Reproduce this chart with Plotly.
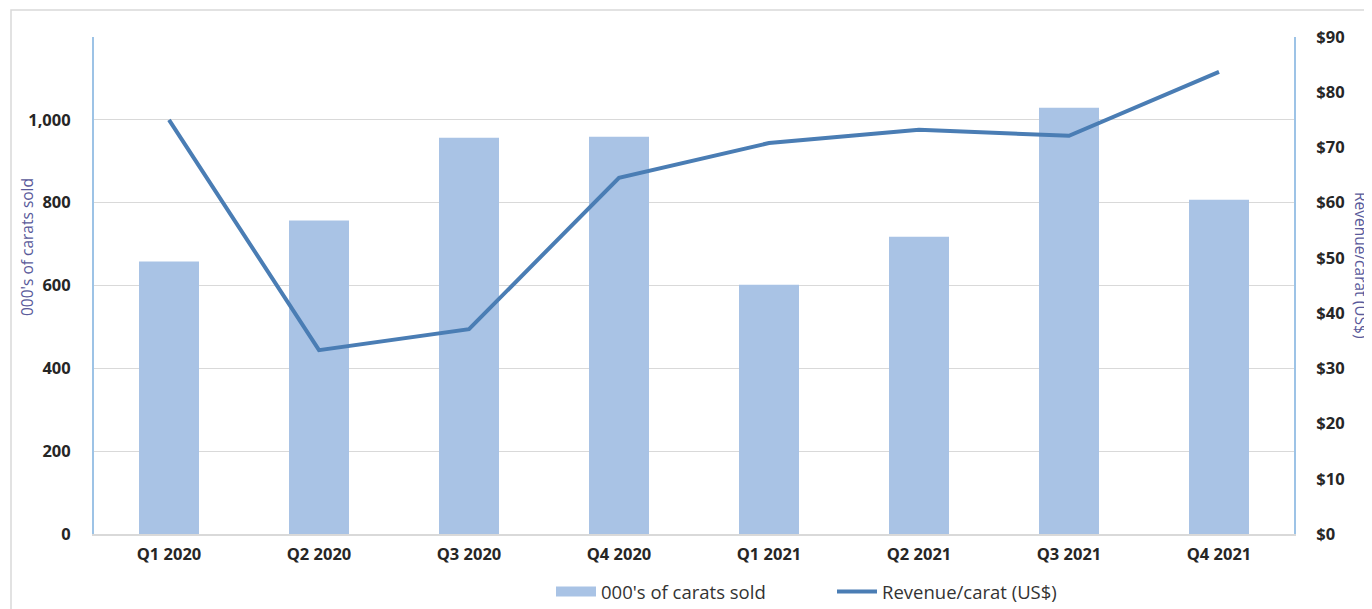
import plotly.graph_objects as go

quarters = ["Q1 2020", "Q2 2020", "Q3 2020", "Q4 2020", "Q1 2021", "Q2 2021", "Q3 2021", "Q4 2021"]
carats_sold = [658, 757, 957, 959, 602, 718, 1029, 807]
revenue_per_carat = [75.0, 33.3, 37.1, 64.5, 70.8, 73.2, 72.1, 83.7]
left_ticks = [0, 200, 400, 600, 800, 1000]
left_tick_text = ["0", "200", "400", "600", "800", "1,000"]
right_ticks = [0, 10, 20, 30, 40, 50, 60, 70, 80, 90]
right_tick_text = ["$" + str(v) for v in right_ticks]

OFF = 8  # default page body margin
W, H = 1372 - OFF, 609 - OFF
# plot area in window pixels: left 94, right 1294, top 37, bottom 534
L, T = 94 - OFF, 37 - OFF
R = W - (1294 - OFF)
B = H - (534 - OFF)
pw, ph = W - L - R, H - T - B

def px(x):  # window px -> paper
    return (x - OFF - L) / pw

def py(y):
    return (534 - y) / ph

FONT = "Open Sans, Liberation Sans, sans-serif"
BAR_COLOR = "#a9c3e5"
LINE_COLOR = "#4a7db4"

fig = go.Figure()
fig.add_trace(go.Bar(
    x=quarters, y=carats_sold, name="000's of carats sold", showlegend=False,
    marker=dict(color=BAR_COLOR, line=dict(width=0)), width=0.4, yaxis="y"))
# legend proxy for the bar series (wide swatch as in the original)
fig.add_trace(go.Scatter(
    x=[None], y=[None], name="000's of carats sold", mode="lines",
    line=dict(color=BAR_COLOR, width=10), yaxis="y", hoverinfo="skip"))
fig.add_trace(go.Scatter(
    x=quarters, y=revenue_per_carat, name="Revenue/carat (US$)", mode="lines",
    line=dict(color=LINE_COLOR, width=4), yaxis="y2"))

tickfont = dict(family=FONT, size=16.5, color="#262626", weight="bold")

fig.update_layout(
    width=W, height=H,
    margin=dict(l=L, r=R, t=T, b=B, autoexpand=False),
    paper_bgcolor="white", plot_bgcolor="white",
    showlegend=True,
    legend=dict(orientation="h", x=px(551), y=py(592), xanchor="left", yanchor="middle",
                font=dict(family=FONT, size=18.5, color="#333333"),
                traceorder="normal", itemwidth=40, entrywidthmode="pixels", entrywidth=226,
                bgcolor="rgba(0,0,0,0)"),
    xaxis=dict(showgrid=False, showline=True, linecolor="#d9d9d9", linewidth=2,
               tickfont=tickfont, ticks="", ticklabelstandoff=4),
    yaxis=dict(range=[0, 1200], tickvals=left_ticks, ticktext=left_tick_text,
               showgrid=True, gridcolor="#d9d9d9", gridwidth=1,
               showline=True, linecolor="#9dc3e6", linewidth=2,
               tickfont=tickfont, ticks="", ticklabelstandoff=18, zeroline=False),
    yaxis2=dict(range=[0, 90], overlaying="y", side="right", tickvals=right_ticks,
                ticktext=right_tick_text, showgrid=False,
                showline=True, linecolor="#9dc3e6", linewidth=2,
                tickfont=tickfont, ticks="", ticklabelstandoff=17, zeroline=False),
    bargap=0.6,
)

fig.add_annotation(text="000's of carats sold", x=px(27), y=py(247), xref="paper", yref="paper",
                   xanchor="center", yanchor="middle",
                   textangle=-90, showarrow=False,
                   font=dict(family=FONT, size=15.5, color="#5a5a9a"))
fig.add_annotation(text="Revenue/carat (US$)", x=px(1361), y=py(265), xref="paper", yref="paper",
                   xanchor="center", yanchor="middle",
                   textangle=90, showarrow=False,
                   font=dict(family=FONT, size=15.5, color="#5a5a9a"))

fig.add_shape(type="rect", xref="paper", yref="paper",
              x0=px(11), x1=px(1400), y0=py(10), y1=py(650),
              line=dict(color="#d9d9d9", width=1.5), fillcolor="rgba(0,0,0,0)", layer="below")

fig.write_html("out.html")
